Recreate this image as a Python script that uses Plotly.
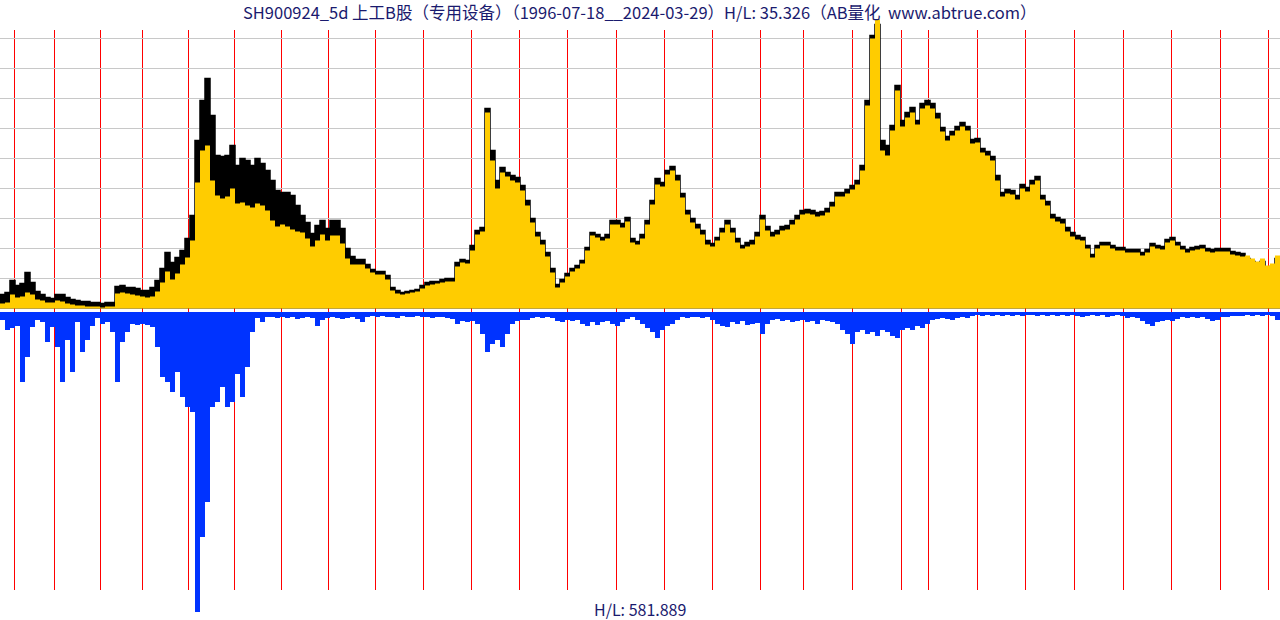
import plotly.graph_objects as go

# ---- data (5-day samples, arbitrary linear price units / volume units) ----
black_top = [14,16,28,23,25,36,26,17,14,11,10,14,14,11,9,8,7,7,6,6,5,6,6,22,23,21,21,20,18,18,
             21,28,40,56,46,51,58,70,93,168,208,230,193,153,152,153,163,143,150,148,143,150,145,138,128,118,116,116,113,103,
             93,86,75,83,88,80,88,88,80,60,52,49,49,44,39,37,37,33,21,18,16,17,18,19,23,26,27,27,29,30,
             30,46,49,48,63,78,81,200,158,128,141,136,133,131,123,108,90,76,68,56,40,24,29,35,40,43,48,61,76,74,
             71,74,88,88,85,91,70,67,74,88,108,130,126,138,142,133,115,98,90,84,78,68,65,71,80,88,80,70,63,66,
             68,76,93,82,76,78,82,83,88,93,98,99,98,96,97,100,106,116,116,119,123,128,143,208,273,284,168,163,183,223,
             188,196,201,188,205,208,205,195,181,172,177,182,186,182,169,170,160,157,152,133,116,119,118,113,124,121,128,132,113,107,
             94,91,89,81,76,73,71,63,54,63,66,66,63,61,61,59,59,59,56,59,65,63,62,69,71,66,62,59,61,62,
             63,60,59,60,60,60,57,56,55,50,47,44,47,41,42,50]
yellow_top = [5,6,14,11,12,16,14,9,8,6,6,8,7,5,4,3,3,2,2,2,1,2,2,15,16,15,14,13,12,11,
              12,17,26,37,29,35,44,51,68,126,158,163,128,113,110,112,120,105,106,103,101,105,103,98,88,82,84,82,79,77,
              76,70,62,68,74,68,73,73,65,50,44,44,44,40,36,34,34,29,18,15,14,15,16,17,20,23,24,25,26,27,
              27,42,46,45,58,74,77,196,148,120,136,132,128,126,118,103,86,72,64,52,36,21,26,32,37,40,45,58,73,71,
              68,70,84,84,81,87,66,64,70,84,104,124,122,134,138,128,111,94,86,80,74,64,62,68,76,84,76,66,60,62,
              64,72,89,78,72,74,78,79,84,89,94,95,94,92,93,96,102,112,112,115,119,124,138,203,270,289,158,153,178,218,
              182,191,196,184,200,203,200,190,177,168,173,178,182,178,165,166,156,153,148,128,112,115,114,109,120,117,124,128,109,103,
              90,87,85,77,72,69,68,60,51,60,63,63,60,58,58,56,56,56,53,56,62,60,59,66,68,63,59,56,58,59,
              60,57,56,57,57,57,54,53,52,53,50,47,50,43,45,53]
volume = [8,18,16,14,70,45,15,8,10,30,15,35,70,28,60,10,40,28,14,6,12,10,20,70,30,20,12,13,12,13,
          15,35,65,70,80,60,85,95,100,300,225,190,95,90,75,95,90,62,85,55,20,6,10,5,5,6,5,6,5,7,
          6,5,6,14,8,6,5,6,7,6,5,7,10,5,4,5,4,5,5,6,4,5,5,4,5,5,6,5,5,6,
          7,12,9,10,9,12,22,40,32,28,35,22,12,9,8,8,6,5,6,5,6,9,10,8,9,8,12,14,10,13,
          10,9,12,14,10,7,5,8,12,16,20,26,18,14,12,8,5,6,5,5,6,5,8,12,14,15,10,12,9,13,
          12,11,22,12,8,7,9,8,10,9,8,10,9,12,8,9,10,12,18,22,32,20,18,22,20,24,18,20,24,26,
          18,16,18,14,16,12,8,7,6,7,8,6,5,6,4,3,4,3,4,3,4,3,4,3,4,3,3,4,3,4,
          3,4,3,4,3,4,5,4,3,4,3,5,4,3,4,6,5,6,9,12,14,10,9,8,9,7,5,6,5,6,
          5,7,9,8,5,5,4,4,4,3,4,3,4,3,4,8]
# positions (sample index) of the yearly separator lines
year_marks = [2.4,10.4,19.6,28.0,37.2,46.4,55.8,65.2,74.6,84.2,93.8,103.4,113.0,122.8,
              132.4,142.0,151.6,160.2,170.0,179.8,185.2,195.0,204.6,214.4,224.2,233.8,243.6,253.2]
grid_levels = [30,60,90,120,150,180,210,240,270]

title_text = "SH900924_5d 上工B股（专用设备）（1996-07-18__2024-03-29）H/L: 35.326（AB量化  www.abtrue.com）"
bottom_text = "H/L: 581.889"

n = len(black_top)
idx = list(range(n))
# step edges: each sample spans [i-0.5, i+0.5]
edges = [i - 0.5 for i in idx] + [n - 0.5]
black_step = black_top + [black_top[-1]]
yellow_step = yellow_top + [yellow_top[-1]]

fig = go.Figure()
fig.add_trace(go.Scatter(x=edges, y=black_step, mode="lines", line=dict(shape="hv", color="#000000", width=1.5),
                         fill="tozeroy", fillcolor="#000000", yaxis="y", hoverinfo="skip"))
fig.add_trace(go.Scatter(x=edges, y=yellow_step, mode="lines", line=dict(shape="hv", color="#ffcc00", width=0),
                         fill="tozeroy", fillcolor="#ffcc00", yaxis="y", hoverinfo="skip"))
fig.add_trace(go.Bar(x=idx, y=volume, base=0, width=1, marker=dict(color="#0033ff", line=dict(width=0)),
                     yaxis="y2", hoverinfo="skip"))

for m in year_marks:
    fig.add_shape(type="line", xref="x", yref="paper", x0=m, x1=m,
                  y0=1 - 590 / 620, y1=1 - 30 / 620,
                  line=dict(color="#ff0000", width=1), layer="below")

font_family = "Noto Sans CJK SC, Noto Sans, sans-serif"
fig.update_layout(
    width=1280, height=620, margin=dict(l=0, r=0, t=0, b=0),
    paper_bgcolor="white", plot_bgcolor="white", showlegend=False,
    barmode="overlay", bargap=0,
    xaxis=dict(range=[-0.5, n - 0.5], visible=False, fixedrange=True),
    yaxis=dict(range=[-311.5, 308.5], tickvals=grid_levels, showticklabels=False,
               showgrid=True, gridcolor="#c8c8c8", gridwidth=1, zeroline=False, showline=False),
    yaxis2=dict(range=[308, -312], overlaying="y", visible=False, showgrid=False, zeroline=False),
    annotations=[
        dict(text=title_text, x=0.5, y=1 - 12 / 620, xref="paper", yref="paper",
             xanchor="center", yanchor="middle", showarrow=False, borderpad=0,
             font=dict(family=font_family, size=16.5, color="#1a1a6e")),
        dict(text=bottom_text, x=0.5, y=1 - 609 / 620, xref="paper", yref="paper",
             xanchor="center", yanchor="middle", showarrow=False, borderpad=0,
             font=dict(family=font_family, size=16, color="#1a1a6e")),
    ],
)

fig.write_html("out.html")
